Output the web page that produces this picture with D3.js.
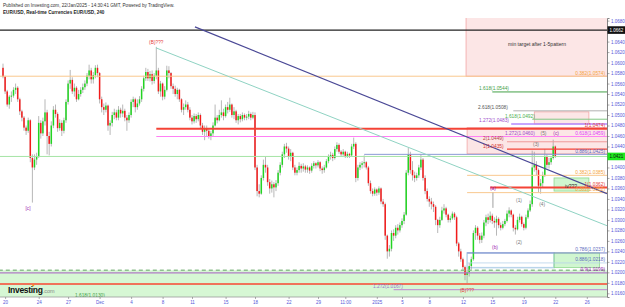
<!DOCTYPE html>
<html>
<head>
<meta charset="utf-8">
<script src="https://cdn.jsdelivr.net/npm/d3@7"></script>
<style>
  body { margin: 0; background: #fff; }
  svg { display: block; font-family: "Liberation Sans", Arial, sans-serif; }
</style>
</head>
<body>
<svg width="625" height="307"></svg>
<script>
// EUR/USD 4h bars, 20 Nov -> 22 Jan (open of each bar = previous close)
const firstOpen = 1.0590;
const closes = [
  1.0573, 1.0545, 1.0520, 1.0535, 1.0537, 1.0548, 1.0552, 1.0530, 1.0507, 1.0495,
  1.0476, 1.0470, 1.0490, 1.0418, 1.0400, 1.0415, 1.0420, 1.0485, 1.0465, 1.0488,
  1.0505, 1.0460, 1.0445, 1.0480, 1.0510, 1.0502, 1.0475, 1.0485, 1.0470, 1.0490,
  1.0525, 1.0560, 1.0567, 1.0545, 1.0552, 1.0530, 1.0540, 1.0548, 1.0553, 1.0560,
  1.0575, 1.0585, 1.0568, 1.0576, 1.0590, 1.0580, 1.0530, 1.0515, 1.0510, 1.0518,
  1.0480, 1.0485, 1.0500, 1.0505, 1.0495, 1.0510, 1.0503, 1.0508, 1.0495, 1.0490,
  1.0500, 1.0525, 1.0530, 1.0515, 1.0522, 1.0530, 1.0550, 1.0570, 1.0582, 1.0570,
  1.0578, 1.0565, 1.0575, 1.0585, 1.0545, 1.0560, 1.0535, 1.0548, 1.0585, 1.0580,
  1.0555, 1.0550, 1.0540, 1.0548, 1.0530, 1.0510, 1.0515, 1.0520, 1.0510, 1.0495,
  1.0488, 1.0498, 1.0492, 1.0500, 1.0480, 1.0468, 1.0475, 1.0470, 1.0460, 1.0465,
  1.0480, 1.0495, 1.0490, 1.0500, 1.0505, 1.0498, 1.0515, 1.0510, 1.0520, 1.0500,
  1.0507, 1.0490, 1.0498, 1.0492, 1.0500, 1.0495, 1.0497, 1.0502, 1.0495, 1.0500,
  1.0400, 1.0355, 1.0350, 1.0380, 1.0405, 1.0400, 1.0372, 1.0360, 1.0368, 1.0362,
  1.0370, 1.0390, 1.0405, 1.0425, 1.0440, 1.0436, 1.0420, 1.0428, 1.0400, 1.0390,
  1.0395, 1.0403, 1.0398, 1.0402, 1.0396, 1.0400, 1.0394, 1.0403, 1.0408, 1.0404,
  1.0410, 1.0398, 1.0395, 1.0400, 1.0412, 1.0420, 1.0424, 1.0418, 1.0435, 1.0443,
  1.0430, 1.0425, 1.0430, 1.0422, 1.0426, 1.0423, 1.0440, 1.0445, 1.0380, 1.0400,
  1.0405, 1.0408, 1.0410, 1.0400, 1.0370, 1.0355, 1.0350, 1.0358, 1.0352, 1.0360,
  1.0335, 1.0330, 1.0270, 1.0240, 1.0245, 1.0275, 1.0270, 1.0285, 1.0280, 1.0290,
  1.0298, 1.0310, 1.0390, 1.0425, 1.0395, 1.0385, 1.0380, 1.0385, 1.0400, 1.0415,
  1.0380, 1.0355, 1.0340, 1.0335, 1.0330, 1.0325, 1.0300, 1.0290, 1.0300, 1.0318,
  1.0322, 1.0310, 1.0300, 1.0303, 1.0312, 1.0305, 1.0255, 1.0240, 1.0225, 1.0210,
  1.0195, 1.0200, 1.0212, 1.0225, 1.0275, 1.0285, 1.0270, 1.0262, 1.0270, 1.0295,
  1.0305, 1.0300, 1.0308, 1.0298, 1.0295, 1.0302, 1.0290, 1.0285, 1.0292, 1.0298,
  1.0312, 1.0318, 1.0310, 1.0285, 1.0282, 1.0300, 1.0306, 1.0292, 1.0285, 1.0305,
  1.0318, 1.0330, 1.0400, 1.0405, 1.0395, 1.0365, 1.0370, 1.0385, 1.0420, 1.0405,
  1.0410, 1.0418, 1.0440, 1.0421
];
const highs = [
  1.0598, 1.0575, 1.0548, 1.0538, 1.0545, 1.0553, 1.0560, 1.0555, 1.0533, 1.0510,
  1.0498, 1.0480, 1.0495, 1.0492, 1.0425, 1.0425, 1.0428, 1.0498, 1.0490, 1.0495,
  1.0530, 1.0510, 1.0468, 1.0488, 1.0517, 1.0520, 1.0505, 1.0492, 1.0490, 1.0495,
  1.0530, 1.0566, 1.0586, 1.0572, 1.0560, 1.0555, 1.0548, 1.0553, 1.0560, 1.0566,
  1.0580, 1.0596, 1.0590, 1.0582, 1.0595, 1.0596, 1.0582, 1.0535, 1.0522, 1.0524,
  1.0520, 1.0490, 1.0506, 1.0512, 1.0510, 1.0517, 1.0514, 1.0520, 1.0512, 1.0500,
  1.0505, 1.0530, 1.0535, 1.0533, 1.0530, 1.0536, 1.0555, 1.0575, 1.0590, 1.0588,
  1.0584, 1.0585, 1.0580, 1.0630, 1.0590, 1.0565, 1.0562, 1.0555, 1.0594, 1.0593,
  1.0582, 1.0560, 1.0556, 1.0552, 1.0550, 1.0532, 1.0522, 1.0528, 1.0525, 1.0515,
  1.0500, 1.0503, 1.0502, 1.0505, 1.0503, 1.0485, 1.0480, 1.0480, 1.0474, 1.0470,
  1.0486, 1.0520, 1.0500, 1.0510, 1.0528, 1.0512, 1.0520, 1.0525, 1.0533, 1.0522,
  1.0515, 1.0510, 1.0502, 1.0502, 1.0505, 1.0503, 1.0502, 1.0508, 1.0505, 1.0506,
  1.0505, 1.0405, 1.0368, 1.0385, 1.0415, 1.0420, 1.0405, 1.0378, 1.0375, 1.0372,
  1.0376, 1.0395, 1.0410, 1.0430, 1.0445, 1.0447, 1.0440, 1.0435, 1.0430, 1.0405,
  1.0400, 1.0410, 1.0407, 1.0408, 1.0405, 1.0404, 1.0402, 1.0408, 1.0412, 1.0410,
  1.0414, 1.0412, 1.0402, 1.0405, 1.0416, 1.0425, 1.0430, 1.0428, 1.0440, 1.0448,
  1.0446, 1.0433, 1.0435, 1.0432, 1.0430, 1.0428, 1.0445, 1.0457, 1.0448, 1.0405,
  1.0410, 1.0412, 1.0423, 1.0412, 1.0403, 1.0375, 1.0360, 1.0362, 1.0360, 1.0364,
  1.0362, 1.0340, 1.0333, 1.0272, 1.0252, 1.0280, 1.0282, 1.0290, 1.0292, 1.0295,
  1.0303, 1.0315, 1.0395, 1.0437, 1.0430, 1.0412, 1.0392, 1.0390, 1.0405, 1.0425,
  1.0418, 1.0385, 1.0360, 1.0345, 1.0342, 1.0335, 1.0328, 1.0302, 1.0306, 1.0325,
  1.0330, 1.0325, 1.0312, 1.0308, 1.0316, 1.0315, 1.0308, 1.0258, 1.0245, 1.0228,
  1.0213, 1.0208, 1.0218, 1.0230, 1.0280, 1.0290, 1.0288, 1.0275, 1.0276, 1.0300,
  1.0310, 1.0312, 1.0316, 1.0312, 1.0305, 1.0308, 1.0305, 1.0295, 1.0298, 1.0302,
  1.0318, 1.0324, 1.0320, 1.0312, 1.0290, 1.0306, 1.0312, 1.0308, 1.0295, 1.0310,
  1.0322, 1.0337, 1.0432, 1.0430, 1.0412, 1.0398, 1.0378, 1.0392, 1.0435, 1.0425,
  1.0418, 1.0422, 1.0453, 1.0442
];
const lows = [
  1.0570, 1.0540, 1.0516, 1.0512, 1.0525, 1.0533, 1.0540, 1.0525, 1.0500, 1.0488,
  1.0470, 1.0462, 1.0466, 1.0410, 1.0333, 1.0395, 1.0405, 1.0418, 1.0455, 1.0460,
  1.0480, 1.0425, 1.0423, 1.0440, 1.0475, 1.0495, 1.0468, 1.0470, 1.0460, 1.0465,
  1.0485, 1.0520, 1.0550, 1.0540, 1.0535, 1.0525, 1.0528, 1.0535, 1.0542, 1.0548,
  1.0555, 1.0568, 1.0560, 1.0560, 1.0570, 1.0572, 1.0522, 1.0505, 1.0500, 1.0505,
  1.0470, 1.0462, 1.0478, 1.0492, 1.0490, 1.0490, 1.0495, 1.0496, 1.0488, 1.0470,
  1.0485, 1.0495, 1.0515, 1.0505, 1.0510, 1.0518, 1.0525, 1.0545, 1.0565, 1.0565,
  1.0564, 1.0558, 1.0560, 1.0568, 1.0540, 1.0535, 1.0528, 1.0530, 1.0545, 1.0570,
  1.0550, 1.0540, 1.0535, 1.0530, 1.0525, 1.0505, 1.0500, 1.0510, 1.0505, 1.0490,
  1.0482, 1.0484, 1.0485, 1.0488, 1.0475, 1.0462, 1.0452, 1.0460, 1.0455, 1.0452,
  1.0460, 1.0478, 1.0484, 1.0488, 1.0495, 1.0490, 1.0495, 1.0503, 1.0506, 1.0495,
  1.0492, 1.0485, 1.0482, 1.0486, 1.0488, 1.0490, 1.0490, 1.0492, 1.0490, 1.0492,
  1.0395, 1.0345, 1.0343, 1.0348, 1.0375, 1.0390, 1.0365, 1.0350, 1.0352, 1.0343,
  1.0355, 1.0365, 1.0385, 1.0400, 1.0418, 1.0428, 1.0415, 1.0412, 1.0395, 1.0385,
  1.0385, 1.0390, 1.0390, 1.0392, 1.0390, 1.0390, 1.0388, 1.0390, 1.0398, 1.0398,
  1.0400, 1.0393, 1.0388, 1.0390, 1.0398, 1.0408, 1.0415, 1.0412, 1.0415, 1.0430,
  1.0426, 1.0420, 1.0422, 1.0418, 1.0418, 1.0418, 1.0420, 1.0435, 1.0372, 1.0375,
  1.0395, 1.0398, 1.0400, 1.0396, 1.0365, 1.0350, 1.0345, 1.0346, 1.0346, 1.0348,
  1.0330, 1.0325, 1.0262, 1.0226, 1.0230, 1.0240, 1.0260, 1.0265, 1.0272, 1.0276,
  1.0285, 1.0292, 1.0308, 1.0385, 1.0388, 1.0375, 1.0372, 1.0375, 1.0380, 1.0395,
  1.0375, 1.0349, 1.0335, 1.0325, 1.0320, 1.0315, 1.0290, 1.0275, 1.0285, 1.0298,
  1.0312, 1.0305, 1.0295, 1.0295, 1.0300, 1.0300, 1.0250, 1.0230, 1.0220, 1.0205,
  1.0185, 1.0178, 1.0192, 1.0205, 1.0222, 1.0262, 1.0262, 1.0255, 1.0256, 1.0265,
  1.0288, 1.0292, 1.0295, 1.0292, 1.0285, 1.0270, 1.0284, 1.0280, 1.0282, 1.0288,
  1.0295, 1.0305, 1.0305, 1.0278, 1.0272, 1.0280, 1.0295, 1.0287, 1.0280, 1.0282,
  1.0302, 1.0315, 1.0325, 1.0392, 1.0385, 1.0352, 1.0350, 1.0362, 1.0382, 1.0398,
  1.0398, 1.0405, 1.0415, 1.0418
];

// time axis: bar index of each label and its text
const tickBars = [1, 17, 31, 46, 61, 76, 90, 106, 120, 136, 150, 163, 178, 190, 203, 219, 233, 248, 263, 278];
const tickLabels = ['20', '24', '27', 'Dec', '4', '8', '11', '15', '18', '22', '29', '11:00', '2025', '5', '8', '12', '15', '19', '22', '26'];
const priceTicks = [1.0160, 1.0180, 1.0200, 1.0220, 1.0240, 1.0260, 1.0280, 1.0300, 1.0320, 1.0340,
  1.0360, 1.0380, 1.0400, 1.0420, 1.0440, 1.0460, 1.0480, 1.0500, 1.0520, 1.0540,
  1.0560, 1.0580, 1.0600, 1.0620, 1.0640, 1.0660, 1.0680];

// horizontal levels: price, first bar, label (right edge unless `at` bar given)
const levels = [
  { p: 1.0662, from: -2, kind: 'black' },
  { p: 1.0574, from: -2, kind: 'orange', text: '0.382(1.0574)' },
  { p: 1.0544, from: 233, kind: 'green', text: '1.618(1.0544)', at: 226.7 },
  { p: 1.0508, from: 243, kind: 'grey', text: '2.618(1.0508)', at: 226.2 },
  { p: 1.0492, from: 252, kind: 'lime', text: '1.618(1.0492)', at: 239 },
  { p: 1.0483, from: 242, kind: 'violet', text: '1.272(1.0483)', at: 226.7 },
  { p: 1.0474, from: 73, kind: 'red', text: '1(1.0474)' },
  { p: 1.0459, from: 73, kind: 'magenta', text: '0.618(1.0459)' },
  { p: 1.0449, from: 240, kind: 'rose', text: '2(1.0449)', at: 228.6 },
  { p: 1.0435, from: 240, kind: 'redThin', text: '1(1.0435)', at: 228.6 },
  { p: 1.0425, from: 172, kind: 'slate', text: '0.886(1.0425)' },
  { p: 1.0385, from: 221, kind: 'orange', text: '0.382(1.0385)' },
  { p: 1.0362, from: 232, kind: 'red', text: '1(1.0362)' },
  { p: 1.0352, from: 221, kind: 'orange', text: '0.382(1.0352)' },
  { p: 1.0237, from: 221, kind: 'blue', text: '0.786(1.0237)' },
  { p: 1.0218, from: 221, kind: 'paleBlue', text: '0.886(1.0218)' },
  { p: 1.0204, from: -2, kind: 'dashed' },
  { p: 1.0199, from: -2, kind: 'purple', text: '0.9(1.0199)' },
  { p: 1.0178, from: -2, kind: 'salmon' },
  { p: 1.0167, from: 186, kind: 'lilac', text: '1.272(1.0167)', at: 176.2 }
];

// boxes: bar range and price range
const zones = [
  { from: 220.5, to: 292, top: 1.0700, bottom: 1.0574, kind: 'pink' },
  { from: 253, to: 279, top: 1.0506, bottom: 1.0483, kind: 'pink' },
  { from: 221, to: 292, top: 1.0476, bottom: 1.0426, kind: 'pink' },
  { from: 262.4, to: 279, top: 1.0380, bottom: 1.0355, kind: 'green' },
  { from: 221, to: 262.4, top: 1.0237, bottom: 1.0209, kind: 'outline' },
  { from: 262.4, to: 284, top: 1.0237, bottom: 1.0209, kind: 'green' },
  { from: -2, to: 292, top: 1.0204, bottom: 1.0100, kind: 'band' }
];

// trend lines: two points each (bar, price)
const trendLines = [
  { a: [91.4, 1.0668], b: [287.6, 1.0350], kind: 'navy' },
  { a: [72.9, 1.0628], b: [287.6, 1.0289], kind: 'teal' },
  { a: [233.3, 1.0352], b: [233.3, 1.0323], kind: 'stem' }
];

// wave labels and notes
const notes = [
  { i: 73, p: 1.0638, text: '(B)???', kind: 'red' },
  { i: 11.9, p: 1.0323, text: '[c]', kind: 'purple' },
  { i: 233.3, p: 1.0361, text: '(a)', kind: 'purple' },
  { i: 234.3, p: 1.0247, text: '(b)', kind: 'purple' },
  { i: 245.7, p: 1.0337, text: '(1)', kind: 'grey' },
  { i: 245.7, p: 1.0257, text: '(2)', kind: 'grey' },
  { i: 253.8, p: 1.0445, text: '(3)', kind: 'grey' },
  { i: 256.7, p: 1.0329, text: '(4)', kind: 'grey' },
  { i: 257.4, p: 1.0466, text: '(5)', kind: 'grey' },
  { i: 263.4, p: 1.0466, text: '(c)', kind: 'purple' },
  { i: 221, p: 1.0165, text: '(B)???', kind: 'red' },
  { i: 254.3, p: 1.0634, text: 'min target after 1-5pattern', kind: 'dark' },
  { i: 270.5, p: 1.0365, text: 'iv???', kind: 'dark' },
  { i: 239, p: 1.0466, text: '1.272(1.0460)', kind: 'violet' },
  { i: 34.3, p: 1.0156, text: '1.618(1.0130)', kind: 'green' }
];

const svg = d3.select('svg');
const plot = { left: 0, right: 607, top: 18, bottom: 297 };

const x = d3.scaleLinear().domain([0, 288]).range([3, 607.8]);
const y = d3.scaleLinear().domain([1.0153, 1.0685]).range([plot.bottom, plot.top]);

const lineStyle = {
  black: { c: '#222', w: 1.2 },
  orange: { c: '#f9c88e', w: 1, t: '#f5a53c' },
  green: { c: '#43a047', w: 1, t: '#43a047' },
  grey: { c: '#9e9e9e', w: 0.8, t: '#555' },
  lime: { c: '#81c784', w: 1, t: '#4caf50' },
  violet: { c: '#b388ff', w: 1.5, t: '#9c4dcc' },
  red: { c: '#f44336', w: 2, t: '#e53935' },
  magenta: { c: '#ff80f4', w: 1.2, t: '#e040fb' },
  rose: { c: '#ef9a9a', w: 1, t: '#b0413e' },
  redThin: { c: '#f44336', w: 1.4, t: '#d32f2f' },
  slate: { c: '#8c9ad6', w: 1, t: '#5c6bc0' },
  blue: { c: '#7986cb', w: 1, t: '#5c6bc0' },
  paleBlue: { c: '#b7d3ea', w: 0.8, t: '#5c6bc0' },
  dashed: { c: '#8fc08f', w: 1.4, dash: '4,3' },
  purple: { c: '#b07cc6', w: 1.2, t: '#9c27b0' },
  salmon: { c: '#f0735a', w: 2 },
  lilac: { c: '#c39bd3', w: 1.2, t: '#9575cd' },
  price: { c: '#a5e4a5', w: 1 },
  navy: { c: '#4a4896', w: 1.2 },
  teal: { c: '#8fd3c3', w: 1 },
  stem: { c: '#a0a0a0', w: 1 }
};
const zoneStyle = {
  pink: { f: 'rgba(242,130,130,0.2)', s: '#f2a5a5' },
  green: { f: 'rgba(120,230,120,0.35)', s: '#8fd88f' },
  outline: { f: 'rgba(255,255,255,0)', s: '#b9d4ea' },
  band: { f: '#d6f7d4', s: 'none' }
};
const noteColor = { red: '#e53935', purple: '#9c27b0', grey: '#777', dark: '#333', violet: '#9c4dcc', green: '#43a047' };

svg.append('rect').attr('width', 625).attr('height', 307).attr('fill', '#fff');

svg.append('clipPath').attr('id', 'plot-clip')
  .append('rect')
  .attr('x', plot.left).attr('y', plot.top)
  .attr('width', plot.right - plot.left).attr('height', plot.bottom - plot.top);

const g = svg.append('g').attr('clip-path', 'url(#plot-clip)');

// zones
g.selectAll('rect.zone').data(zones)
  .enter().append('rect')
  .attr('class', 'zone')
  .attr('x', d => x(d.from))
  .attr('y', d => y(d.top))
  .attr('width', d => x(d.to) - x(d.from))
  .attr('height', d => y(d.bottom) - y(d.top))
  .attr('fill', d => zoneStyle[d.kind].f)
  .attr('stroke', d => zoneStyle[d.kind].s)
  .attr('stroke-width', d => d.kind === 'outline' ? 1.5 : 0.8);

// candles
const bars = closes.map((c, i) => {
  const o = i === 0 ? firstOpen : closes[i - 1];
  return { i, o, c, h: Math.max(highs[i], o, c), l: Math.min(lows[i], o, c) };
});

g.selectAll('line.wick').data(bars)
  .enter().append('line')
  .attr('class', 'wick')
  .attr('x1', d => x(d.i)).attr('x2', d => x(d.i))
  .attr('y1', d => y(d.h)).attr('y2', d => y(d.l))
  .attr('stroke', '#9a9a9a')
  .attr('stroke-width', 0.7);

g.selectAll('rect.body').data(bars)
  .enter().append('rect')
  .attr('class', 'body')
  .attr('x', d => x(d.i) - 0.75)
  .attr('width', 1.5)
  .attr('y', d => y(Math.max(d.o, d.c)))
  .attr('height', d => Math.max(0.7, Math.abs(y(d.o) - y(d.c))))
  .attr('fill', d => d.c >= d.o ? '#22d422' : '#f21b1b');

// horizontal levels
const allLevels = levels.concat([{ p: closes[closes.length - 1], from: -2, kind: 'price' }]);
g.selectAll('line.level').data(allLevels)
  .enter().append('line')
  .attr('class', 'level')
  .attr('x1', d => x(d.from)).attr('x2', plot.right)
  .attr('y1', d => y(d.p)).attr('y2', d => y(d.p))
  .attr('stroke', d => lineStyle[d.kind].c)
  .attr('stroke-width', d => lineStyle[d.kind].w)
  .attr('stroke-dasharray', d => lineStyle[d.kind].dash || null);

// trend lines
const segment = d3.line().x(d => x(d[0])).y(d => y(d[1]));
g.selectAll('path.trend').data(trendLines)
  .enter().append('path')
  .attr('class', 'trend')
  .attr('d', d => segment([d.a, d.b]))
  .attr('fill', 'none')
  .attr('stroke', d => lineStyle[d.kind].c)
  .attr('stroke-width', d => lineStyle[d.kind].w);

// level labels
g.selectAll('text.level-label').data(levels.filter(d => d.text))
  .enter().append('text')
  .attr('class', 'level-label')
  .attr('x', d => d.at !== undefined ? x(d.at) : 605)
  .attr('y', d => y(d.p) - 1.6)
  .attr('text-anchor', d => d.at !== undefined ? 'start' : 'end')
  .attr('font-size', 4.8)
  .attr('fill', d => lineStyle[d.kind].t)
  .text(d => d.text);

// notes
g.selectAll('text.note').data(notes)
  .enter().append('text')
  .attr('class', 'note')
  .attr('x', d => x(d.i))
  .attr('y', d => y(d.p))
  .attr('dy', '0.35em')
  .attr('text-anchor', d => d.kind === 'violet' || (d.kind === 'green') ? 'start' : 'middle')
  .attr('font-size', d => d.kind === 'dark' ? 5 : 4.8)
  .attr('fill', d => noteColor[d.kind])
  .text(d => d.text);

// price axis
const yAxis = d3.axisRight(y).tickValues(priceTicks).tickSize(2.5).tickFormat(d3.format('.4f'));
const yAxisG = svg.append('g').attr('transform', `translate(${plot.right},0)`).call(yAxis);
yAxisG.select('.domain').attr('stroke', '#666').attr('stroke-width', 0.8);
yAxisG.selectAll('.tick line').attr('stroke', '#777').attr('stroke-width', 0.6);
yAxisG.selectAll('.tick text').attr('x', 4).attr('font-size', 4.5).attr('fill', '#5656d8')
  .attr('font-family', '"Liberation Sans", Arial, sans-serif');

// time axis
const xAxis = d3.axisBottom(x).tickValues(tickBars).tickSize(2).tickFormat((d, k) => tickLabels[k]);
const xAxisG = svg.append('g').attr('transform', `translate(0,${plot.bottom})`).call(xAxis);
xAxisG.select('.domain').attr('stroke', '#999').attr('stroke-width', 0.8).attr('d', `M0,0H${plot.right}`);
xAxisG.selectAll('.tick line').attr('stroke', '#777').attr('stroke-width', 0.6);
xAxisG.selectAll('.tick text').attr('y', 4).attr('font-size', 4.5).attr('fill', '#5656d8')
  .attr('font-family', '"Liberation Sans", Arial, sans-serif');

// price boxes on the axis
const boxes = [
  { p: levels[0].p, fill: '#111', color: '#fff' },
  { p: closes[closes.length - 1], fill: '#1ee81e', color: '#111' }
];
const boxG = svg.selectAll('g.pbox').data(boxes).enter().append('g').attr('class', 'pbox');
boxG.append('rect')
  .attr('x', plot.right + 0.5).attr('y', d => y(d.p) - 3.8)
  .attr('width', 17.5).attr('height', 7.6)
  .attr('fill', d => d.fill);
boxG.append('text')
  .attr('x', plot.right + 2.5).attr('y', d => y(d.p))
  .attr('dy', '0.35em')
  .attr('font-size', 4.5)
  .attr('fill', d => d.color)
  .text(d => d3.format('.4f')(d.p));

// header
svg.append('text').attr('x', 3).attr('y', 6.5).attr('font-size', 4.6).attr('fill', '#333')
  .text('Published on Investing.com, 22/Jan/2025 - 14:30:41 GMT, Powered by TradingView.');
svg.append('text').attr('x', 3).attr('y', 14).attr('font-size', 4.6).attr('font-weight', 'bold').attr('fill', '#222')
  .text('EUR/USD, Real-time Currencies EUR/USD, 240');

// logo
const logo = svg.append('text').attr('x', 8).attr('y', 293);
logo.append('tspan').attr('font-size', 8.5).attr('font-weight', 'bold').attr('fill', '#111').attr('letter-spacing', -0.3).text('Investing');
logo.append('tspan').attr('font-size', 5.5).attr('fill', '#888').text('.com');
svg.append('circle').attr('cx', 33.2).attr('cy', 285.3).attr('r', 1.1).attr('fill', '#f7931e');
</script>
</body>
</html>
